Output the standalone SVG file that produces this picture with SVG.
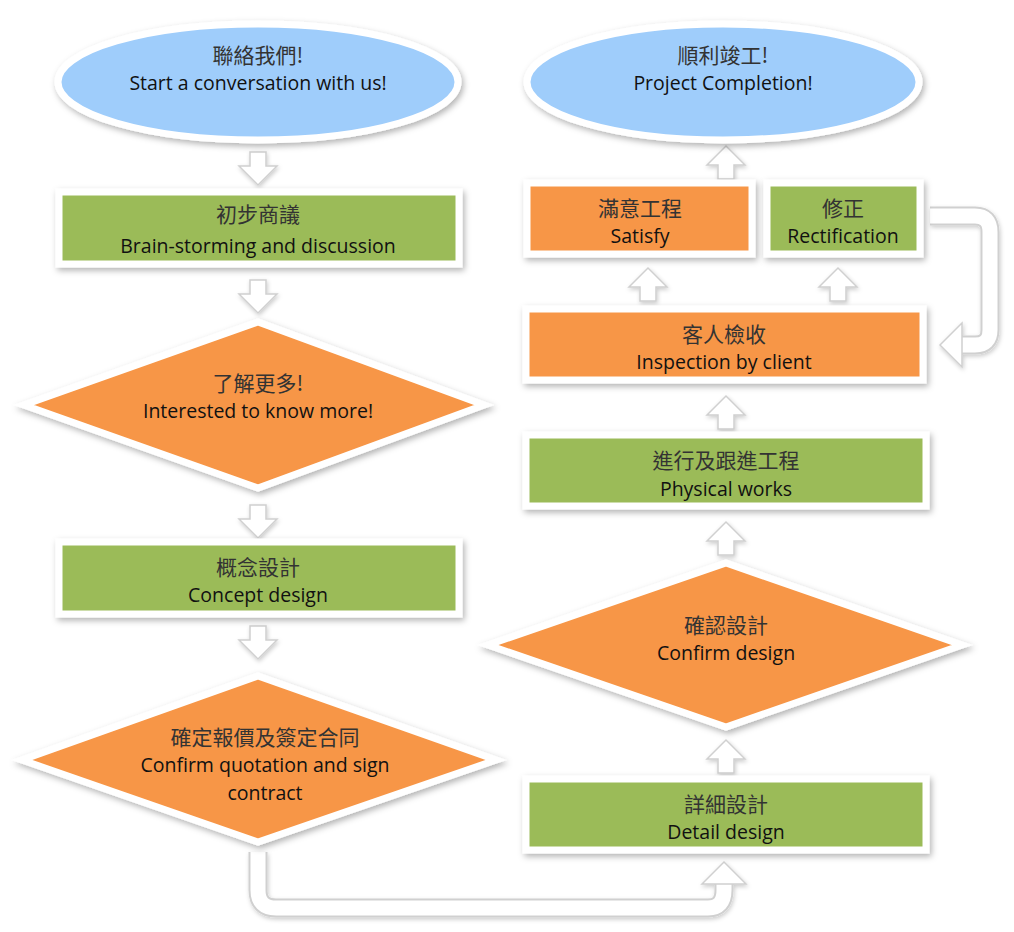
<svg xmlns="http://www.w3.org/2000/svg" width="1014" height="932" viewBox="0 0 1014 932">
<defs>
<filter id="sh" x="-10%" y="-10%" width="120%" height="130%"><feDropShadow dx="2" dy="3" stdDeviation="3" flood-color="#000" flood-opacity="0.3"/></filter>
<filter id="sl" x="-20%" y="-20%" width="140%" height="140%"><feDropShadow dx="1" dy="2" stdDeviation="2" flood-color="#000" flood-opacity="0.2"/></filter>
<path id="dn" d="M-8,0 h16 v14 h11 l-19,19 l-19,-19 h11 z"/>
<path id="up" d="M-8,33 h16 v-14 h11 l-19,-19 l-19,19 h11 z"/>
</defs>
<style>
.sh{stroke:#fff;stroke-width:7;filter:url(#sh)}
.bl{fill:#9fcdfb}.gr{fill:#9bbb59}.or{fill:#f79646}
.ar{fill:#fff;stroke:#d0d0d0;stroke-width:1.5;filter:url(#sl)}
.zh{font-family:"Noto Sans CJK TC","Noto Sans CJK SC",sans-serif;font-size:21px;fill:#333;text-anchor:middle}
.en{font-family:"Open Sans","Noto Sans",sans-serif;font-size:19.5px;fill:#111;text-anchor:middle}
</style>
<rect width="1014" height="932" fill="#fff"/>
<g id="connectors">
<use href="#dn" x="258" y="152" class="ar"/>
<use href="#dn" x="258" y="280" class="ar"/>
<use href="#dn" x="258" y="505" class="ar"/>
<use href="#dn" x="258" y="626" class="ar"/>
<use href="#up" x="726" y="146" class="ar"/>
<use href="#up" x="648" y="268" class="ar"/>
<use href="#up" x="838" y="268" class="ar"/>
<use href="#up" x="726" y="396" class="ar"/>
<use href="#up" x="726" y="522" class="ar"/>
<use href="#up" x="726" y="740" class="ar"/>
<g filter="url(#sl)">
<path d="M258,852 V890 Q258,908 276,908 H708 Q724,908 724,890 V880" fill="none" stroke="#d0d0d0" stroke-width="19"/>
<path d="M258,852 V890 Q258,908 276,908 H708 Q724,908 724,890 V880" fill="none" stroke="#fff" stroke-width="15"/>
<path d="M702,884 L724,862 L746,884 Z" fill="#fff" stroke="#d0d0d0" stroke-width="1.5"/>
<path d="M930,216 H975 Q990,216 990,232 V330 Q990,345 975,345 H958" fill="none" stroke="#d0d0d0" stroke-width="19"/>
<path d="M930,216 H975 Q990,216 990,232 V330 Q990,345 975,345 H958" fill="none" stroke="#fff" stroke-width="15"/>
<path d="M962,323 L940,345 L962,367 Z" fill="#fff" stroke="#d0d0d0" stroke-width="1.5"/>
</g>
</g>
<g id="n1"><ellipse cx="258" cy="82" rx="200" ry="58" class="sh bl"/><text x="258" y="63" class="zh">聯絡我們!</text><text x="258" y="90" class="en">Start a conversation with us!</text></g>
<g id="n2"><rect x="59" y="192" width="400" height="72" class="sh gr"/><text x="258" y="222" class="zh">初步商議</text><text x="258" y="253" class="en">Brain-storming and discussion</text></g>
<g id="n3"><polygon points="258,322 484,405 258,488 24,405" class="sh or"/><text x="258" y="391" class="zh">了解更多!</text><text x="258" y="418" class="en">Interested to know more!</text></g>
<g id="n4"><rect x="59" y="542" width="400" height="72" class="sh gr"/><text x="258" y="575" class="zh">概念設計</text><text x="258" y="602" class="en">Concept design</text></g>
<g id="n5"><polygon points="258,676 496,760 258,842 22,760" class="sh or"/><text x="265" y="745" class="zh">確定報價及簽定合同</text><text x="265" y="772" class="en">Confirm quotation and sign</text><text x="265" y="800" class="en">contract</text></g>
<g id="n6"><ellipse cx="723" cy="82" rx="196" ry="58" class="sh bl"/><text x="723" y="63" class="zh">順利竣工!</text><text x="723" y="90" class="en">Project Completion!</text></g>
<g id="n7"><rect x="527" y="183" width="225" height="71" class="sh or"/><text x="640" y="216" class="zh">滿意工程</text><text x="640" y="243" class="en">Satisfy</text></g>
<g id="n8"><rect x="767" y="183" width="153" height="71" class="sh gr"/><text x="843" y="216" class="zh">修正</text><text x="843" y="243" class="en">Rectification</text></g>
<g id="n9"><rect x="526" y="309" width="397" height="71" class="sh or"/><text x="724" y="342" class="zh">客人檢收</text><text x="724" y="369" class="en">Inspection by client</text></g>
<g id="n10"><rect x="526" y="435" width="400" height="71" class="sh gr"/><text x="726" y="468" class="zh">進行及跟進工程</text><text x="726" y="496" class="en">Physical works</text></g>
<g id="n11"><polygon points="726,563 962,645 726,727 488,645" class="sh or"/><text x="726" y="633" class="zh">確認設計</text><text x="726" y="660" class="en">Confirm design</text></g>
<g id="n12"><rect x="526" y="779" width="400" height="71" class="sh gr"/><text x="726" y="812" class="zh">詳細設計</text><text x="726" y="839" class="en">Detail design</text></g>
</svg>
